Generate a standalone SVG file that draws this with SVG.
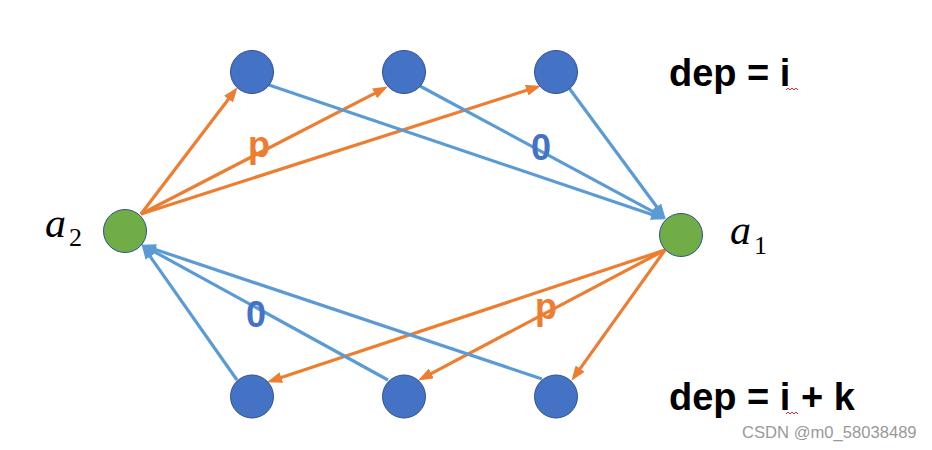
<svg xmlns="http://www.w3.org/2000/svg" width="932" height="450" viewBox="0 0 932 450">
<style>
.node{fill:#4472C4;stroke:#2F528F;stroke-width:1}
.end{fill:#70AD47;stroke:#2F528F;stroke-width:1}
.o{stroke:#ED7D31;stroke-width:3.2;fill:none;marker-end:url(#ao)}
.b{stroke:#5B9BD5;stroke-width:3.2;fill:none;marker-end:url(#ab)}
.var{font-family:"Liberation Serif",serif;font-style:italic;font-size:42px;fill:#000}
.sub{font-family:"Liberation Serif",serif;font-size:26px;fill:#000}
.lbl{font-family:"Liberation Sans",Arial,sans-serif;font-weight:bold;font-size:36px}
.dep{font-family:"Liberation Sans",Arial,sans-serif;font-weight:bold;font-size:38px;fill:#000}
.wm{font-family:"Liberation Sans",Arial,sans-serif;font-size:16.6px;fill:#999}
</style>
<defs>
<marker id="ao" markerUnits="userSpaceOnUse" markerWidth="15" markerHeight="11" refX="4" refY="5.5" orient="auto"><path d="M0,0 L15,5.5 L0,11 z" fill="#ED7D31"/></marker>
<marker id="ab" markerUnits="userSpaceOnUse" markerWidth="15" markerHeight="11" refX="4" refY="5.5" orient="auto"><path d="M0,0 L15,5.5 L0,11 z" fill="#5B9BD5"/></marker>
</defs>
<rect width="932" height="450" fill="#fff"/>
<g id="connectors">
<line class="o" x1="141" y1="214" x2="230.9" y2="96"/>
<line class="o" x1="141" y1="214" x2="378.1" y2="91.6"/>
<line class="o" x1="141" y1="214" x2="530.5" y2="89.1"/>
<line class="b" x1="266" y1="84" x2="655.5" y2="215.8"/>
<line class="b" x1="418" y1="85" x2="656.2" y2="213.3"/>
<line class="b" x1="569" y1="88" x2="659.1" y2="210"/>
<line class="o" x1="665" y1="250" x2="277.5" y2="378.8"/>
<line class="o" x1="665" y1="250" x2="427.8" y2="375.3"/>
<line class="o" x1="665" y1="250" x2="577.8" y2="371.9"/>
<line class="b" x1="237" y1="380" x2="147.8" y2="253.2"/>
<line class="b" x1="388" y1="380" x2="150.8" y2="249.8"/>
<line class="b" x1="542" y1="379" x2="151.5" y2="248.2"/>
<text class="lbl" x="248" y="157" fill="#ED7D31">p</text>
<text class="lbl" x="531" y="160" fill="#4472C4">0</text>
<text class="lbl" x="246" y="327" fill="#4472C4">0</text>
<text class="lbl" x="535" y="319" fill="#ED7D31">p</text>
</g>
<g id="t1"><circle class="node" cx="252" cy="72" r="21.5"/></g>
<g id="t2"><circle class="node" cx="404" cy="72" r="21.5"/></g>
<g id="t3"><circle class="node" cx="556" cy="72" r="21.5"/></g>
<g id="b1"><circle class="node" cx="252" cy="396.5" r="21.5"/></g>
<g id="b2"><circle class="node" cx="404" cy="396.5" r="21.5"/></g>
<g id="b3"><circle class="node" cx="556" cy="396.5" r="21.5"/></g>
<g id="a2"><circle class="end" cx="125" cy="231" r="21.5"/>
<text class="var" x="45" y="237">a</text><text class="sub" x="69" y="246">2</text></g>
<g id="a1"><circle class="end" cx="681" cy="235" r="21.5"/>
<text class="var" x="730" y="244">a</text><text class="sub" x="754" y="254">1</text></g>
<g id="dep1"><text class="dep" x="669" y="86">dep = i</text>
<path d="M786,90 l2,-2 l2,2 l2,-2 l2,2 l2,-2 l2,2" stroke="#E03030" stroke-width="1" fill="none"/></g>
<g id="dep2"><text class="dep" x="669" y="410">dep = i + k</text>
<path d="M786,414 l2,-2 l2,2 l2,-2 l2,2 l2,-2 l2,2" stroke="#E03030" stroke-width="1" fill="none"/></g>
<text class="wm" x="742" y="438">CSDN @m0_58038489</text>
</svg>
